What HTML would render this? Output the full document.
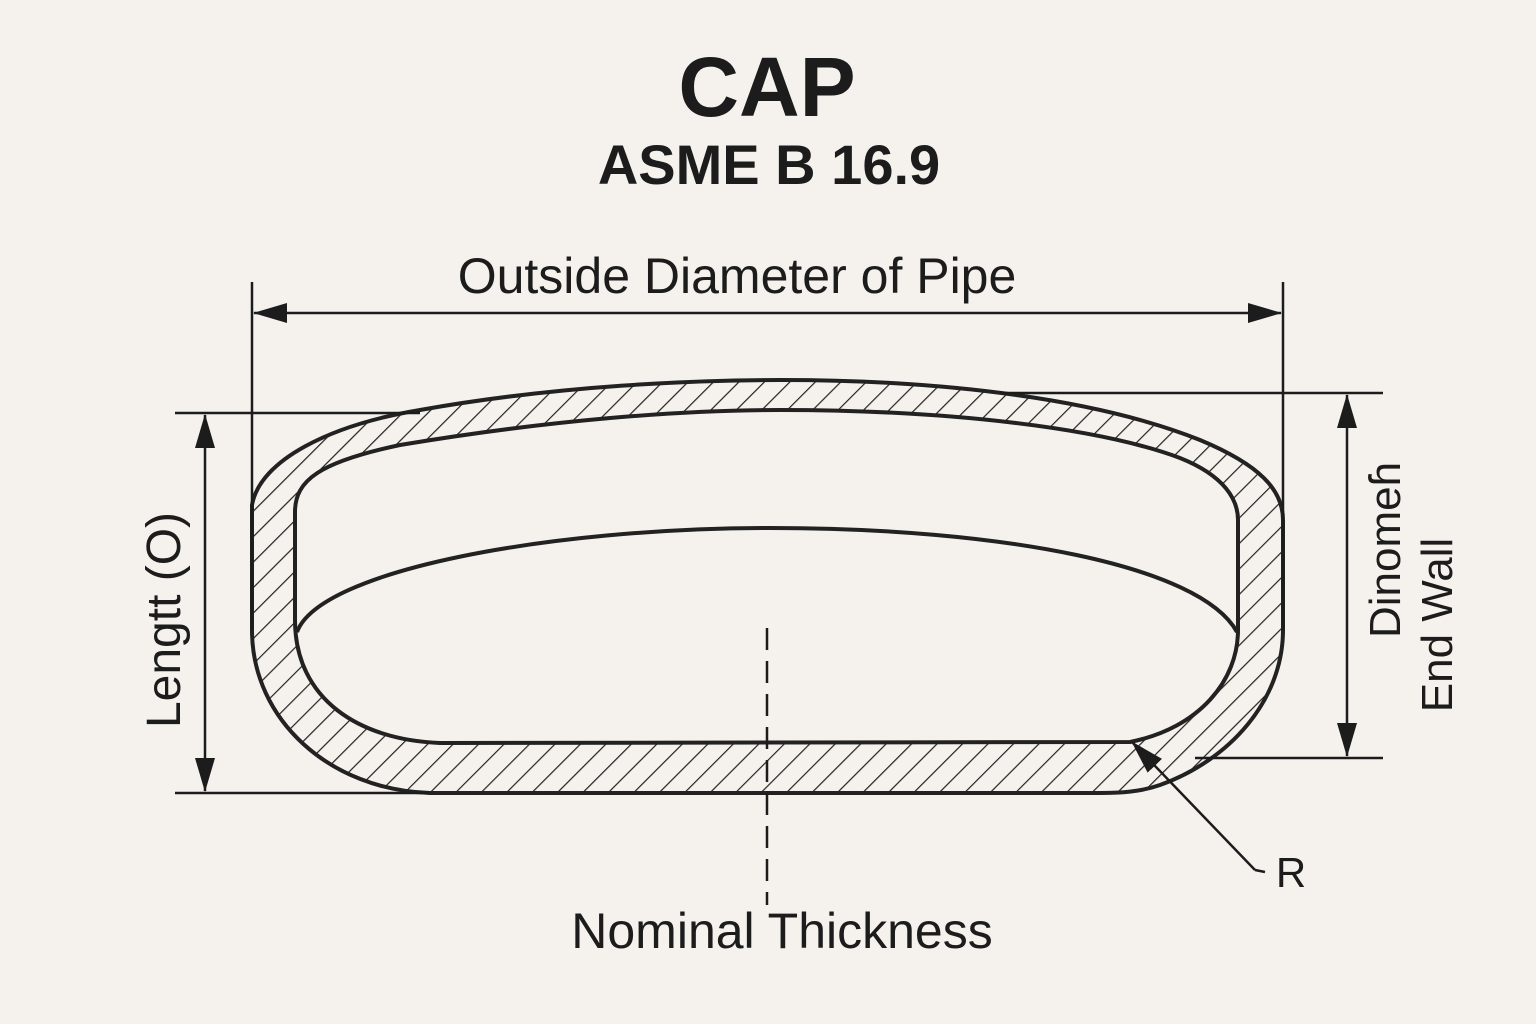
<!DOCTYPE html>
<html><head><meta charset="utf-8"><style>
html,body{margin:0;padding:0;background:#f5f2ee;}
svg{display:block;}
text{font-family:"Liberation Sans",sans-serif;fill:#1c1c1c;}
</style></head><body>
<svg width="1536" height="1024" viewBox="0 0 1536 1024" xmlns="http://www.w3.org/2000/svg">
<defs>
<pattern id="h" patternUnits="userSpaceOnUse" width="18" height="18" patternTransform="rotate(45)">
<rect width="18" height="18" fill="#f5f2ee"/>
<line x1="0" y1="0" x2="0" y2="18" stroke="#222" stroke-width="2.4"/>
</pattern>
<marker id="b" markerWidth="34" markerHeight="20" refX="33" refY="10" orient="auto-start-reverse" markerUnits="userSpaceOnUse"><path d="M0,0 L34,10 L0,20Z" fill="#1c1c1c"/></marker>
</defs>
<text x="767" y="116" text-anchor="middle" font-size="84" font-weight="bold">CAP</text>
<text x="769" y="184" text-anchor="middle" font-size="56" font-weight="bold">ASME B 16.9</text>

<path fill-rule="evenodd" fill="url(#h)" stroke="#222" stroke-width="4" d="M252,630 L252,505 C260,460 330,425 420,410 C560,385 700,380 780,380 C950,380 1100,400 1200,440 C1260,465 1283,490 1283,520 L1283,630 C1283,700 1230,760 1160,785 C1140,792 1120,793 1100,793 L430,793 C330,790 252,720 252,630 Z
M295,620 L295,512 C295,480 320,462 400,445 C550,420 680,410 780,410 C950,410 1100,428 1180,458 C1225,476 1238,500 1238,520 L1238,630 C1238,680 1200,728 1130,742 L440,743 C360,740 295,700 295,620 Z"/>
<path fill="none" stroke="#222" stroke-width="4" d="M297,632 C320,570 550,528 770,528 C1000,528 1200,565 1237,632"/>

<g stroke="#1c1c1c" stroke-width="2.5" fill="none">
<line x1="252" y1="282" x2="252" y2="630"/>
<line x1="1283" y1="282" x2="1283" y2="630"/>
<line x1="254" y1="313" x2="1281" y2="313" marker-start="url(#b)" marker-end="url(#b)"/>
<line x1="175" y1="413" x2="420" y2="413"/>
<line x1="175" y1="793" x2="430" y2="793"/>
<line x1="205" y1="415" x2="205" y2="791" marker-start="url(#b)" marker-end="url(#b)"/>
<line x1="1000" y1="393" x2="1383" y2="393"/>
<line x1="1195" y1="758" x2="1383" y2="758"/>
<line x1="1347" y1="395" x2="1347" y2="756" marker-start="url(#b)" marker-end="url(#b)"/>
<line x1="767" y1="628" x2="767" y2="905" stroke-dasharray="22,11"/>
<polyline points="1255,870 1265,872"/>
<line x1="1255" y1="870" x2="1132" y2="742" marker-end="url(#b)"/>
</g>
<text x="737" y="293" text-anchor="middle" font-size="50">Outside Diameter of Pipe</text>
<text transform="translate(180,620) rotate(-90)" text-anchor="middle" font-size="48">Lengtt (O)</text>
<text transform="translate(1400,550) rotate(-90)" text-anchor="middle" font-size="44">Dinomeɦ</text>
<text transform="translate(1452,625) rotate(-90)" text-anchor="middle" font-size="44">End Wall</text>
<text x="782" y="948" text-anchor="middle" font-size="50">Nominal Thickness</text>
<text x="1291" y="887" text-anchor="middle" font-size="42">R</text>
</svg>
</body></html>
